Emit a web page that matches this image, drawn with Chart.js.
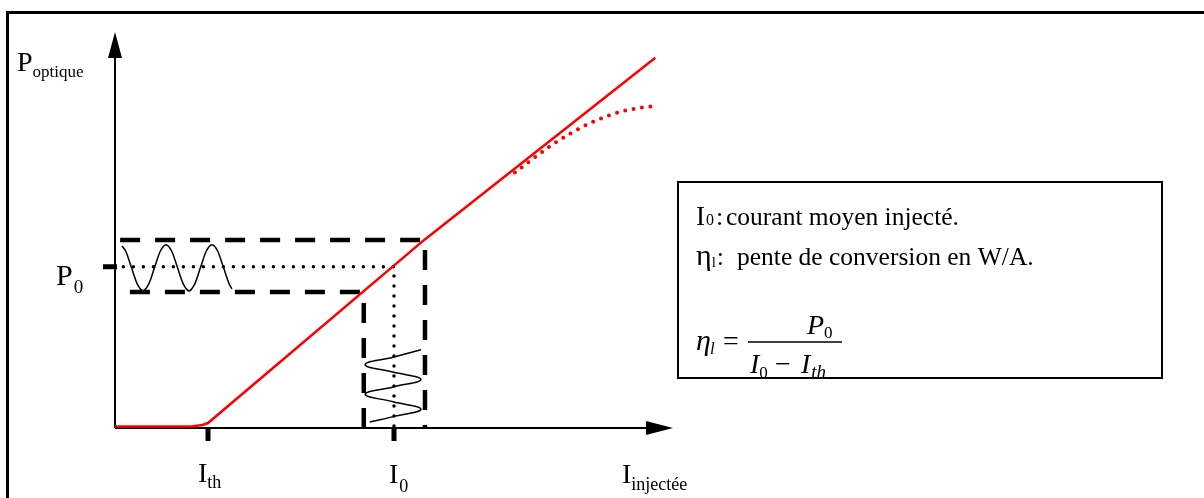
<!DOCTYPE html>
<html>
<head>
<meta charset="utf-8">
<script src="https://cdn.jsdelivr.net/npm/chart.js@4/dist/chart.umd.min.js"></script>
<style>
  html, body { margin: 0; padding: 0; background: #fff; }
  canvas { display: block; }
</style>
</head>
<body>
<canvas id="chart" width="1204" height="498"></canvas>
<script>
// P-I characteristic of a laser diode (current in mA, optical power in mW, arbitrary scale)
const current = [0, 8.2, 9.4, 10, 33.25, 58.1];
const power = [0.15, 0.15, 0.3, 0.5, 19.0, 37.4];

// saturation at high current (dotted)
const satCurrent = [43.0, 47.0, 51.1, 54.6, 58.4];
const satPower = [25.8, 28.6, 30.8, 32.0, 32.6];

// operating point and modulation bounds
const Ith = 10;
const I0 = 30;
const P0 = 16.3;
const Imin = 26.75, Imax = 33.33;
const Pmin = 13.75, Pmax = 19.0;

// modulating current (vertical sine)
const modI = [32.9, 29.9, 26.9, 29.9, 32.9, 29.9, 26.9, 29.9, 32.9, 29.9, 27.4];
const modT = [7.9, 7.15, 6.4, 5.65, 4.9, 4.15, 3.4, 2.65, 1.9, 1.15, 0.6];

// resulting optical power (horizontal sine)
const outT = [0.75, 1.16, 1.77, 2.39, 3.01, 3.63, 4.25, 4.87, 5.48, 6.10, 6.72,
              7.34, 7.96, 8.58, 9.19, 9.81, 10.43, 11.05, 11.67, 12.28, 12.58];
const outP = [18.4, 17.85, 16.2, 14.55, 13.85, 14.55, 16.2, 17.85, 18.5, 17.85, 16.2,
              14.55, 13.85, 14.55, 16.2, 17.85, 18.5, 17.85, 16.2, 14.55, 14.05];

const pts = (xs, ys) => xs.map((x, i) => ({ x: x, y: ys[i] }));

const serif = '"Liberation Serif", "Times New Roman", serif';

function txt(ctx, s, x, y, size, italic) {
  ctx.font = (italic ? 'italic ' : '') + size + 'px ' + serif;
  ctx.fillText(s, x, y);
  return x + ctx.measureText(s).width;
}

const schema = {
  id: 'schema',
  beforeDraw(chart) {
    const ctx = chart.ctx;
    ctx.save();
    ctx.fillStyle = '#fff';
    ctx.fillRect(0, 0, chart.width, chart.height);
    ctx.restore();
  },
  beforeDatasetsDraw(chart) {
    const ctx = chart.ctx;
    const xs = chart.scales.x, ys = chart.scales.y;
    const x0 = xs.getPixelForValue(0), y0 = ys.getPixelForValue(0);
    const xEnd = xs.getPixelForValue(xs.max), yEnd = ys.getPixelForValue(ys.max);
    ctx.save();
    // outer frame (top and left)
    ctx.strokeStyle = '#000';
    ctx.lineWidth = 3;
    ctx.beginPath();
    ctx.moveTo(7.5, chart.height);
    ctx.lineTo(7.5, 12.5);
    ctx.lineTo(chart.width, 12.5);
    ctx.stroke();
    // axes
    ctx.lineWidth = 2;
    ctx.beginPath();
    ctx.moveTo(x0, y0);
    ctx.lineTo(xEnd - 26, y0);
    ctx.moveTo(x0, y0);
    ctx.lineTo(x0, yEnd + 24);
    ctx.stroke();
    ctx.fillStyle = '#000';
    ctx.beginPath();
    ctx.moveTo(xEnd, y0);
    ctx.lineTo(xEnd - 27, y0 - 7);
    ctx.lineTo(xEnd - 27, y0 + 7);
    ctx.closePath();
    ctx.fill();
    ctx.beginPath();
    ctx.moveTo(x0, yEnd);
    ctx.lineTo(x0 - 7, yEnd + 26);
    ctx.lineTo(x0 + 7, yEnd + 26);
    ctx.closePath();
    ctx.fill();
    ctx.restore();
  },
  afterDatasetsDraw(chart) {
    const ctx = chart.ctx;
    const xs = chart.scales.x, ys = chart.scales.y;
    const x0 = xs.getPixelForValue(0), y0 = ys.getPixelForValue(0);
    const xth = xs.getPixelForValue(Ith), xi0 = xs.getPixelForValue(I0);
    const yp0 = ys.getPixelForValue(P0);
    ctx.save();
    // ticks
    ctx.strokeStyle = '#000';
    ctx.lineWidth = 5;
    ctx.beginPath();
    ctx.moveTo(xth, y0); ctx.lineTo(xth, y0 + 13);
    ctx.moveTo(xi0, y0); ctx.lineTo(xi0, y0 + 13);
    ctx.moveTo(x0 - 12, yp0); ctx.lineTo(x0 + 2, yp0);
    ctx.stroke();

    // axis labels
    ctx.fillStyle = '#000';
    ctx.textBaseline = 'alphabetic';
    let x = txt(ctx, 'P', 17, 71, 28);
    txt(ctx, 'optique', x, 77, 17);
    x = txt(ctx, 'P', 56, yp0 + 18, 30);
    txt(ctx, '0', x + 1, yp0 + 26, 19);
    x = txt(ctx, 'I', xth - 10, 482, 28);
    txt(ctx, 'th', x, 488, 18);
    x = txt(ctx, 'I', xi0 - 5, 483, 28);
    txt(ctx, '0', x + 1, 492, 18);
    x = txt(ctx, 'I', 622, 483, 28);
    txt(ctx, 'injectée', x, 490, 18);

    // legend box
    ctx.lineWidth = 2;
    ctx.strokeRect(678, 182, 484, 196);
    x = txt(ctx, 'I', 696, 225, 27);
    txt(ctx, '0', x + 1, 225, 16);
    txt(ctx, ':', 716, 225, 26);
    txt(ctx, 'courant moyen injecté.', 726, 225, 25.5);
    x = txt(ctx, 'η', 696, 265, 30);
    x = txt(ctx, 'l', x, 267, 15);
    txt(ctx, ':', x + 1, 265, 26);
    txt(ctx, 'pente de conversion en W/A.', 737, 265, 25.5);
    // formula
    x = txt(ctx, 'η', 696, 350, 30, true);
    txt(ctx, 'l', x - 1, 354, 17, true);
    txt(ctx, '=', 723, 350, 28);
    ctx.lineWidth = 1.5;
    ctx.beginPath();
    ctx.moveTo(748, 342); ctx.lineTo(842, 342);
    ctx.stroke();
    x = txt(ctx, 'P', 807, 334, 28, true);
    txt(ctx, '0', x, 338, 17);
    x = txt(ctx, 'I', 750, 373, 28, true);
    txt(ctx, '0', x, 378, 17);
    txt(ctx, '−', 775, 373, 28);
    x = txt(ctx, 'I', 801, 373, 28, true);
    txt(ctx, 'th', x + 1, 378, 19, true);
    ctx.restore();
  }
};

new Chart(document.getElementById('chart'), {
  type: 'line',
  data: {
    datasets: [
      {
        label: 'P(I)',
        data: pts(current, power),
        borderColor: '#ff0000',
        borderWidth: 2.5,
        tension: 0
      },
      {
        label: 'saturation',
        data: pts(satCurrent, satPower),
        borderColor: '#ff0000',
        borderWidth: 4,
        borderDash: [0, 8.5],
        borderCapStyle: 'round',
        cubicInterpolationMode: 'monotone'
      },
      {
        label: 'Imax / Pmax',
        data: pts([0.55, Imax, Imax], [Pmax, Pmax, 0]),
        borderColor: '#000',
        borderWidth: 4.5,
        borderDash: [20, 15],
        borderJoinStyle: 'miter',
        tension: 0
      },
      {
        label: 'Imin / Pmin',
        data: pts([1.6, Imin, Imin], [Pmin, Pmin, 0]),
        borderColor: '#000',
        borderWidth: 4.5,
        borderDash: [20, 15],
        borderJoinStyle: 'miter',
        tension: 0
      },
      {
        label: 'I0 / P0',
        data: pts([0.9, I0, I0], [P0, P0, 0]),
        borderColor: '#000',
        borderWidth: 3.5,
        borderDash: [0, 10],
        borderCapStyle: 'round',
        tension: 0
      },
      {
        label: 'modulation courant',
        data: pts(modI, modT),
        borderColor: '#000',
        borderWidth: 1.5,
        tension: 0.45
      },
      {
        label: 'modulation puissance',
        data: pts(outT, outP),
        borderColor: '#000',
        borderWidth: 1.5,
        cubicInterpolationMode: 'monotone'
      }
    ]
  },
  options: {
    responsive: false,
    animation: false,
    clip: false,
    layout: { padding: { left: 115, right: 531, top: 32, bottom: 70 } },
    elements: { point: { radius: 0 } },
    scales: {
      x: { type: 'linear', min: 0, max: 60, display: false },
      y: { type: 'linear', min: 0, max: 40, display: false }
    },
    plugins: {
      legend: { display: false },
      tooltip: { enabled: false }
    }
  },
  plugins: [schema]
});
</script>
</body>
</html>
